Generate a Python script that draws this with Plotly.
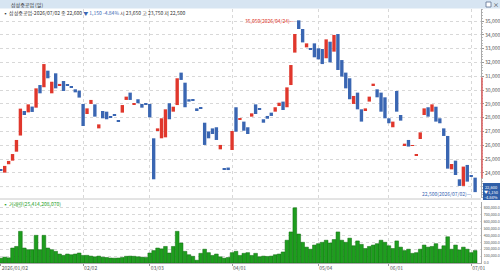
import plotly.graph_objects as go

# ---------------- data ----------------
month_tick_idx = [0, 21, 38, 59, 81, 99, 120]
month_tick_text = ["2026/01/02", "02/02", "03/03", "04/01", "05/04", "06/01", "07/01"]
price_tick_vals = [24000, 25000, 26000, 27000, 28000, 29000, 30000, 31000, 32000, 33000, 34000, 35000]

open_p = [24220, 24010, 24620, 24880, 25530, 26700, 28480, 28380, 28800, 28720,
          30360, 30200, 31400, 29760, 31210, 30290, 30650, 30360, 30270, 30050,
          29950, 28990, 28260, 28990, 28960, 27220, 28480, 28430, 28070, 28210,
          27770, 28360, 29280, 29810, 28970, 29330, 28990, 28990, 28990, 26500,
          27030, 26500, 26570, 29040, 28430, 28910, 31260, 30530, 29330, 29290,
          28670, 28750, 27630, 27000, 27220, 27300, 25700, 24300, 24380, 25650,
          28750, 27830, 27710, 27300, 28070, 28960, 28620, 27880, 28120, 28360,
          28430, 28840, 29160, 28750, 30360, 32710, 35050, 34420, 33090, 32990,
          33380, 33020, 32970, 32300, 33500, 32780, 34060, 32170, 31260, 30850,
          28990, 29810, 28600, 28550, 29160, 30340, 30050, 29810, 29470, 27950,
          27300, 29930, 28190, 25990, 26380, 25950, 25220, 26450, 28190, 28750,
          28430, 28790, 27950, 27220, 26670, 24250, 24880, 23530, 23050, 24570,
          23770, 23650]
close_p = [24180, 24500, 24860, 25360, 26380, 28650, 28190, 28960, 28410, 30120,
           29760, 31880, 30850, 30600, 30120, 30440, 29930, 30320, 30170, 29830,
           29450, 27390, 28670, 29280, 28070, 27510, 27950, 27880, 28000, 28170,
           27730, 28910, 29520, 29280, 29010, 29040, 28720, 28970, 28020, 23530,
           27220, 27950, 28600, 27880, 28790, 30850, 30730, 28750, 29160, 29210,
           28550, 28650, 26020, 26500, 26810, 26380, 26020, 24260, 24200, 27030,
           26980, 27950, 27050, 26810, 28310, 28260, 28580, 27630, 27920, 28120,
           28750, 29080, 28550, 30190, 31810, 34060, 34420, 33450, 33380, 32950,
           32370, 32220, 31880, 33670, 32000, 33990, 31450, 30970, 30120, 29330,
           29570, 28600, 27710, 28670, 29520, 30460, 29470, 28430, 27950, 27590,
           27710, 28430, 27780, 26110, 25900, 25990, 25340, 26930, 28670, 28070,
           28960, 27710, 27590, 26670, 24300, 24640, 23840, 23050, 24450, 23360,
           23750, 22600]
volume = [70000, 85000, 75000, 217000, 240000, 459000, 217000, 193000, 193000, 401000,
          193000, 401000, 217000, 193000, 169000, 130000, 111000, 130000, 120000, 130000,
          145000, 110000, 111000, 100000, 90000, 100000, 85000, 80000, 72000, 70000,
          72000, 80000, 97000, 100000, 97000, 90000, 85000, 80000, 145000, 180000,
          217000, 205000, 240000, 145000, 240000, 459000, 290000, 169000, 120000, 97000,
          40000, 140000, 200000, 150000, 110000, 130000, 90000, 70000, 80000, 150000,
          170000, 110000, 140000, 150000, 110000, 140000, 90000, 100000, 95000, 100000,
          120000, 130000, 160000, 330000, 450000, 800000, 420000, 300000, 230000, 200000,
          260000, 280000, 300000, 330000, 290000, 340000, 450000, 330000, 300000, 360000,
          250000, 320000, 270000, 210000, 240000, 260000, 280000, 330000, 300000, 250000,
          210000, 320000, 230000, 180000, 200000, 140000, 150000, 200000, 260000, 230000,
          240000, 280000, 200000, 250000, 380000, 200000, 260000, 190000, 230000, 200000,
          150000, 180000]

# ---------------- style ----------------
RED = "#E0372C"
BLUE = "#3A66B2"
GREEN = "#1E9E1E"
DKGREEN = "#0F6A0F"
GRID = "#D8D8D8"
TXT = "#555555"
FONT = "Noto Sans CJK KR"

x = list(range(len(open_p)))
body_base = [min(o, c) for o, c in zip(open_p, close_p)]
body_len = [max(abs(c - o), 60) for o, c in zip(open_p, close_p)]
body_col = [RED if c > o else BLUE for o, c in zip(open_p, close_p)]

fig = go.Figure()
fig.add_trace(go.Bar(x=x, y=body_len, base=body_base, width=0.86,
                     marker=dict(color=body_col, line=dict(width=0)),
                     xaxis="x", yaxis="y", hoverinfo="skip"))
fig.add_trace(go.Bar(x=x, y=volume, width=0.95,
                     marker=dict(color=GREEN, line=dict(color=DKGREEN, width=0.5)),
                     xaxis="x2", yaxis="y2", hoverinfo="skip"))

H_PLOT = 254.0  # 273 - 9 - 10
def py(px):  # pixel row -> paper y
    return (263.0 - px) / H_PLOT
def pxx(px):  # pixel col -> paper x
    return px / 481.0

fig.update_layout(
    width=500, height=273,
    margin=dict(l=0, r=19, t=9, b=10),
    paper_bgcolor="white", plot_bgcolor="white",
    showlegend=False, barmode="overlay",
    font=dict(family=FONT, size=5, color=TXT),
    xaxis=dict(domain=[0, 1], range=[-0.2, 122.5], anchor="y",
               tickvals=month_tick_idx, showticklabels=False,
               showgrid=True, gridcolor=GRID, griddash="dot", gridwidth=1,
               zeroline=False, showline=False, ticks=""),
    xaxis2=dict(domain=[0, 1], matches="x", anchor="y2",
                tickvals=month_tick_idx, ticktext=month_tick_text,
                ticklabelposition="outside right",
                tickfont=dict(size=5, color=TXT, family=FONT),
                ticks="outside", ticklen=2, tickcolor="#999",
                showgrid=True, gridcolor=GRID, griddash="dot",
                zeroline=False, showline=True, linecolor="#AAAAAA", linewidth=1,
                automargin=False),
    yaxis=dict(domain=[py(198), 1], range=[22174, 35870], side="right",
               tickvals=price_tick_vals, tickformat=",d",
               tickfont=dict(size=5, color=TXT, family=FONT),
               ticks="outside", ticklen=2, tickcolor="#999",
               minor=dict(ticks="outside", ticklen=1, dtick=200, tick0=0, tickcolor="#bbb"),
               showgrid=True, gridcolor=GRID, griddash="dot",
               zeroline=False, showline=True, linecolor="#AAAAAA", linewidth=1,
               automargin=False, anchor="x"),
    yaxis2=dict(domain=[0, py(202)], range=[0, 884000], side="right",
                tick0=0, dtick=100000, tickformat=",.1f",
                tickfont=dict(size=3.6, color=TXT, family=FONT),
                ticks="", ticklabelstandoff=1,
                showgrid=True, gridcolor=GRID, griddash="dot",
                zeroline=False, showline=True, linecolor="#AAAAAA", linewidth=1,
                automargin=False, anchor="x2"),
)

shapes = [
    # title bar
    dict(type="rect", xref="paper", yref="paper", x0=-0.01, x1=1.05,
         y0=py(8.5), y1=py(-1), fillcolor="#D7E5F2", line=dict(width=0), layer="above"),
    # 23,000 grid line (label hidden behind price box)
    dict(type="line", xref="paper", yref="y", x0=0, x1=1, y0=23000, y1=23000,
         line=dict(color=GRID, width=1, dash="dot"), layer="below"),
    # pane separator
    dict(type="line", xref="paper", yref="paper", x0=0, x1=1, y0=py(199), y1=py(199),
         line=dict(color="#C8C8C8", width=1)),
    # red range marker on price axis
    dict(type="line", xref="paper", yref="y", x0=pxx(482), x1=pxx(482), y0=23600, y1=30900,
         line=dict(color="#E06060", width=1.5)),
    # current price box
    dict(type="rect", xref="paper", yref="paper", x0=pxx(483), x1=pxx(501),
         y0=py(200), y1=py(183), fillcolor="#2F5FA8", line=dict(width=0)),
    # window buttons
    dict(type="rect", xref="paper", yref="paper", x0=pxx(486), x1=pxx(491),
         y0=py(7), y1=py(2), fillcolor="white", line=dict(color="#5A7090", width=0.8)),
]
fig.update_layout(shapes=shapes)

anns = [
    dict(xref="paper", yref="paper", x=pxx(9), y=py(4.2), xanchor="left", yanchor="middle",
         text="삼성중공업 (일)", showarrow=False, font=dict(size=5, color="#333", family=FONT)),
    dict(xref="paper", yref="paper", x=pxx(496), y=py(4.2), xanchor="center", yanchor="middle",
         text="×", showarrow=False, font=dict(size=6, color="#333", family=FONT)),
    dict(xref="paper", yref="paper", x=pxx(1), y=py(13.5), xanchor="left", yanchor="middle",
         text=("<span style='color:#333'>▪ 삼성중공업-2026/07/02 종 22,600 </span>"
               "<span style='color:#3A66B2'>▼ 1,150 -4.84%</span>"
               "<span style='color:#333'> 시 23,650 고 23,750 저 22,500</span>"),
         showarrow=False, font=dict(size=5, family=FONT)),
    dict(xref="paper", yref="paper", x=pxx(1), y=py(204), xanchor="left", yanchor="middle",
         text="▪ 거래량(25,414,208,070)", showarrow=False,
         font=dict(size=5, color="#1E9E1E", family=FONT)),
    dict(xref="x", yref="y", x=75.6, y=35020, xanchor="right", yanchor="middle",
         text="35,050(2026/04/24)—", showarrow=False,
         font=dict(size=5, color=RED, family=FONT)),
    dict(xref="x", yref="y", x=120.6, y=22480, xanchor="right", yanchor="middle",
         text="22,500(2026/07/02)—", showarrow=False,
         font=dict(size=5, color=BLUE, family=FONT)),
    dict(xref="paper", yref="paper", x=pxx(491.5), y=py(191.5), xanchor="center", yanchor="middle",
         text="22,600<br>▼1,150<br>-4.84%", showarrow=False,
         font=dict(size=4, color="white", family=FONT)),
]
fig.update_layout(annotations=anns)

fig.write_html("out.html")
